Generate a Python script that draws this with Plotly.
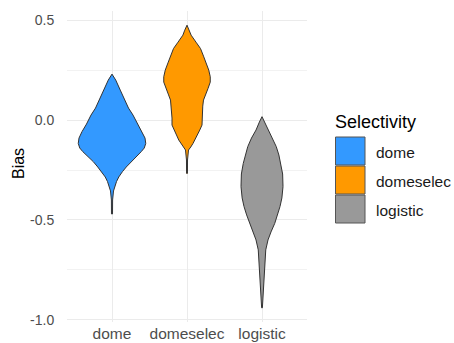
import plotly.graph_objects as go

# Categories, fill colours and violin density profiles (bias level -> half width)
categories = ["dome", "domeselec", "logistic"]
fill_colors = ["#3399ff", "#ff9900", "#999999"]

dome_bias = [0.23, 0.20, 0.15, 0.108, 0.06, 0.025, -0.02, -0.058, -0.09, -0.117,
             -0.14, -0.158, -0.185, -0.208, -0.235, -0.258, -0.285, -0.308,
             -0.335, -0.355, -0.40, -0.47]
dome_half = [0.0, 0.05, 0.11, 0.16, 0.22, 0.28, 0.34, 0.40, 0.44, 0.45,
             0.43, 0.39, 0.32, 0.25, 0.19, 0.14, 0.09, 0.06,
             0.035, 0.02, 0.008, 0.007]

domeselec_bias = [0.475, 0.45, 0.425, 0.39, 0.358, 0.32, 0.29, 0.25, 0.217, 0.19,
                  0.158, 0.13, 0.10, 0.07, 0.042, 0.01, -0.025, -0.05, -0.075,
                  -0.10, -0.117, -0.135, -0.15, -0.20, -0.267]
domeselec_half = [0.0, 0.03, 0.055, 0.12, 0.18, 0.22, 0.25, 0.29, 0.31, 0.31,
                  0.28, 0.25, 0.22, 0.21, 0.21, 0.20, 0.20, 0.17, 0.14,
                  0.11, 0.08, 0.05, 0.02, 0.007, 0.006]

logistic_bias = [0.017, -0.01, -0.05, -0.09, -0.133, -0.175, -0.217, -0.27, -0.333,
                 -0.39, -0.433, -0.475, -0.517, -0.56, -0.60, -0.65, -0.717,
                 -0.783, -0.85, -0.90, -0.94]
logistic_half = [0.0, 0.035, 0.08, 0.14, 0.19, 0.225, 0.25, 0.275, 0.28,
                 0.265, 0.24, 0.205, 0.17, 0.12, 0.08, 0.05, 0.04,
                 0.033, 0.02, 0.01, 0.005]

y_tick_vals = [-1.0, -0.5, 0.0, 0.5]
y_tick_text = ["-1.0", "-0.5", "0.0", "0.5"]

profiles = [(dome_bias, dome_half), (domeselec_bias, domeselec_half),
            (logistic_bias, logistic_half)]

W, H = 454, 343
ML, MR, MT, MB = 67, 147, 11, 21
PW, PH = W - ML - MR, H - MT - MB

fig = go.Figure()
for i, (name, color, (bias, half)) in enumerate(zip(categories, fill_colors, profiles)):
    center = i + 1
    xs = [center + h for h in half] + [center - h for h in reversed(half)]
    ys = list(bias) + list(reversed(bias))
    fig.add_trace(go.Scatter(
        x=xs, y=ys, mode="lines", fill="toself", fillcolor=color,
        line=dict(color="#333333", width=1), name=name,
        showlegend=False, hoverinfo="skip"))

grid = "#ebebeb"
fig.update_layout(
    width=W, height=H, margin=dict(l=ML, r=MR, t=MT, b=MB),
    paper_bgcolor="white", plot_bgcolor="white",
    font=dict(family="Liberation Sans, Arial, sans-serif"),
    xaxis=dict(range=[0.4, 3.6], tickvals=[1, 2, 3], ticktext=categories,
               automargin=False, showgrid=True, gridcolor=grid, gridwidth=1,
               zeroline=False, showline=False, ticks="",
               tickfont=dict(size=15.5, color="#4d4d4d")),
    yaxis=dict(range=[-1.011, 0.546], tickvals=y_tick_vals, ticktext=y_tick_text,
               automargin=False, showgrid=True, gridcolor=grid, gridwidth=1,
               zeroline=False, showline=False, ticks="outside", ticklen=9,
               tickcolor="rgba(0,0,0,0)",
               tickfont=dict(size=14, color="#4d4d4d"),
               minor=dict(tickvals=[-0.75, -0.25, 0.25], showgrid=True,
                          gridcolor="#f2f2f2", gridwidth=1)),
)


def px_x(px):
    return (px - ML) / PW


def px_y(py):
    return (H - MB - py) / PH


# Y-axis title
fig.add_annotation(x=px_x(18), y=px_y(164), xref="paper", yref="paper",
                   text="Bias", showarrow=False, textangle=-90,
                   xanchor="center", yanchor="middle",
                   font=dict(size=16, color="black"))

# Legend to the right of the panel
fig.add_annotation(x=px_x(333), y=px_y(122), xref="paper", yref="paper",
                   text="Selectivity", showarrow=False, xanchor="left",
                   yanchor="middle", font=dict(size=18, color="black"))
key_top = 137
key_h = 29
for j, (name, color) in enumerate(zip(categories, fill_colors)):
    top = key_top + j * key_h
    fig.add_shape(type="rect", xref="paper", yref="paper",
                  x0=px_x(335.5), x1=px_x(365), y0=px_y(top + 28), y1=px_y(top),
                  fillcolor=color, line=dict(color="#555555", width=1))
    fig.add_annotation(x=px_x(374), y=px_y(top + 15), xref="paper", yref="paper",
                       text=name, showarrow=False, xanchor="left", yanchor="middle",
                       font=dict(size=15.5, color="#1a1a1a"))

fig.write_html("out.html")
